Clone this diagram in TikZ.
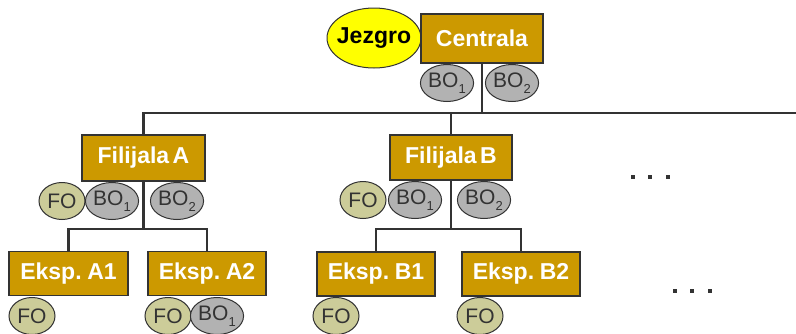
\documentclass[tikz,border=0pt]{standalone}
\usepackage{fontspec}
\setmainfont{Liberation Sans}[WordSpace=0.55]
\usetikzlibrary{shapes.geometric,calc}
\definecolor{boxgold}{HTML}{CC9900}
\definecolor{edgegray}{HTML}{333333}
\definecolor{foolive}{HTML}{CCCC99}
\definecolor{bogray}{HTML}{B2B2B2}
\definecolor{jyellow}{HTML}{FFFF00}
\newcommand{\sub}[1]{\raisebox{-0.3em}{\fontsize{13}{13}\selectfont #1}}
\tikzset{
  orgbox/.style={draw=edgegray, line width=1.2pt, fill=boxgold, text=white,
    font=\fontsize{23}{23}\selectfont\bfseries, inner sep=0pt, rectangle},
  oval/.style={ellipse, draw=edgegray, line width=1pt, minimum width=46pt,
    minimum height=37pt, inner sep=0pt, text=edgegray, font=\fontsize{21}{21}\selectfont},
  fo/.style={oval, fill=foolive},
  bo/.style={oval, fill=bogray},
  link/.style={draw=edgegray, line width=2.6pt},
  dot/.style={fill=edgegray, minimum size=4pt, inner sep=0pt, rectangle}
}
\begin{document}
\begin{tikzpicture}[x=1pt,y=-1pt]
\useasboundingbox (0,0) rectangle (796,333);
% level 1
\node[ellipse, draw=edgegray, line width=1pt, fill=jyellow, minimum width=94pt, minimum height=60pt,
  inner xsep=-4.5pt, inner ysep=0pt,
  font=\fontsize{23}{23}\selectfont\bfseries, text=black] (jezgro) at (374,38) {Jezgro};
\node[orgbox, minimum width=122pt, minimum height=49pt] (centrala) at (482,38.5) {Centrala};
% level 2
\node[orgbox, minimum width=123pt, minimum height=46pt] (filA) at (143.5,158) {Filijala A};
\node[orgbox, minimum width=122pt, minimum height=45pt] (filB) at (451,157.5) {Filijala B};
% level 3
\node[orgbox, minimum width=119pt, minimum height=44pt] (a1) at (68.5,273.5) {Eksp. A1};
\node[orgbox, minimum width=118pt, minimum height=44pt] (a2) at (207,273.5) {Eksp. A2};
\node[orgbox, minimum width=118pt, minimum height=44pt] (b1) at (376,274) {Eksp. B1};
\node[orgbox, minimum width=118pt, minimum height=44pt] (b2) at (521,274) {Eksp. B2};
% connectors
\coordinate (busend) at (796,113);
\coordinate (busA) at (143.5,229);
\coordinate (busB) at (451,229);
\draw[link] (centrala.south) -- (centrala.south |- busend);
\draw[link] (filA.north) |- (busend);
\draw[link] (filB.north) -- (filB.north |- busend);
\draw[link] (filA.south) -- (busA);
\draw[link] (a1.north) |- (busA) -| (a2.north);
\draw[link] (filB.south) -- (busB);
\draw[link] (b1.north) |- (busB) -| (b2.north);
% ovals
\node[bo] (cbo1) at (447,83) {BO\sub{1}};
\node[bo] (cbo2) at (512,83) {BO\sub{2}};
\node[fo] (afo) at (62,201) {FO};
\node[bo] (abo1) at (112,201) {BO\sub{1}};
\node[bo] (abo2) at (177,201) {BO\sub{2}};
\node[fo] (bfo) at (363,200) {FO};
\node[bo] (bbo1) at (415,200) {BO\sub{1}};
\node[bo] (bbo2) at (484,200) {BO\sub{2}};
\node[fo] (a1fo) at (32,316) {FO};
\node[fo] (a2fo) at (168,316) {FO};
\node[bo] (a2bo1) at (217,316) {BO\sub{1}};
\node[fo] (b1fo) at (336,316) {FO};
\node[fo] (b2fo) at (480,316) {FO};
% dots
\node[dot] (d1) at (633,177) {};
\node[dot] (d2) at (650,177) {};
\node[dot] (d3) at (668,177) {};
\node[dot] (d4) at (675,291) {};
\node[dot] (d5) at (692,291) {};
\node[dot] (d6) at (710,291) {};
\end{tikzpicture}
\end{document}
